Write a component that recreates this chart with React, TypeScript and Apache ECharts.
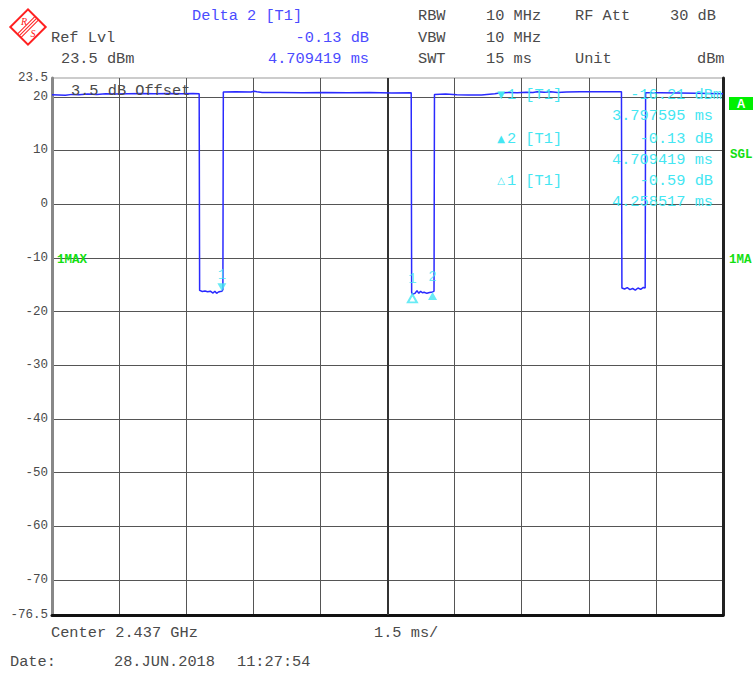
import React, { useEffect, useRef } from "react";
import * as echarts from "echarts";

// ---- data ----
const yGridValues = [20, 10, 0, -10, -20, -30, -40, -50, -60, -70];
const yLabelValues = [23.5, 20, 10, 0, -10, -20, -30, -40, -50, -60, -70, -76.5];

// time (ms) / level (dBm) of the zero-span trace
const trace: [number, number][] = [
  [0.0, 20.4], [0.15, 20.35], [0.3, 20.3], [0.45, 20.45], [0.6, 20.4], [0.8, 20.5], [1.0, 20.45],
  [1.2, 20.55], [1.4, 20.5], [1.7, 20.55], [2.0, 20.6], [2.3, 20.55], [2.6, 20.6], [2.9, 20.55],
  [3.15, 20.6], [3.29, 20.55],
  [3.3, -16.05], [3.36, -16.25], [3.42, -16.15], [3.48, -16.3], [3.54, -16.2], [3.6, -16.55],
  [3.64, -16.2], [3.68, -16.6], [3.72, -16.35], [3.76, -16.25], [3.8, -16.21], [3.82, -15.9],
  [3.83, 20.9], [4.1, 20.95], [4.45, 20.9], [4.52, 21.05], [4.58, 20.95], [4.7, 20.8], [5.1, 20.8],
  [5.6, 20.75], [6.1, 20.8], [6.6, 20.75], [7.1, 20.8], [7.6, 20.7], [8.03, 20.75],
  [8.04, -16.4], [8.06, -16.8], [8.12, -16.55], [8.16, -16.1], [8.2, -16.6], [8.24, -16.2],
  [8.28, -16.5], [8.32, -16.4], [8.38, -16.6], [8.44, -16.45], [8.51, -16.34], [8.54, -16.2],
  [8.55, 20.45], [8.8, 20.5], [9.05, 20.4], [9.3, 20.35], [9.6, 20.35], [9.9, 20.55], [10.0, 20.7],
  [10.2, 20.8], [10.4, 20.75], [10.6, 20.85], [10.75, 20.8], [10.85, 20.95], [11.0, 20.85],
  [11.15, 20.95], [11.3, 20.8], [11.5, 20.9], [11.8, 20.95], [12.2, 20.95], [12.73, 20.95],
  [12.74, -15.6], [12.8, -15.8], [12.86, -15.55], [12.92, -15.9], [12.98, -15.7], [13.04, -16.0],
  [13.1, -15.6], [13.16, -15.85], [13.22, -15.5], [13.26, -15.6],
  [13.27, 20.75], [13.6, 20.75], [14.0, 20.7], [14.4, 20.65], [14.7, 20.6], [15.0, 20.55],
];

const marker1: [number, number] = [3.797595, -16.21];
const delta1: [number, number] = [8.056112, -16.8];
const delta2: [number, number] = [8.507014, -16.34];

const markerInfo = [
  { icon: "▼", name: "1 [T1]", level: "-16.21 dBm", time: "3.797595 ms" },
  { icon: "▲", name: "2 [T1]", level: "-0.13 dB", time: "4.709419 ms" },
  { icon: "△", name: "1 [T1]", level: "-0.59 dB", time: "4.258517 ms" },
];

// ---- styles ----
const MONO = "'Liberation Mono', 'DejaVu Sans Mono', monospace";
const GREY = "#4a4a4a";
const BLUE = "#4b4bff";
const TRACE = "#2a2aff";
const CYAN = "#44e6f2";
const GREEN = "#12e012";

const txt = (text: string, x: number, y: number, fill: string, size = 15.3, align = "left", extra: any = {}) => ({
  type: "text",
  x,
  y,
  z: 10,
  style: { text, fill, font: `${size}px ${MONO}`, align, verticalAlign: "middle", ...extra },
});

export default function App() {
  const ref = useRef<HTMLDivElement>(null);
  useEffect(() => {
    document.body.style.margin = "0";
    const chart = echarts.init(ref.current!, null, { renderer: "svg" });

    const graphic: any[] = [
      // logo
      {
        type: "group",
        x: 28,
        y: 27,
        rotation: Math.PI / 4,
        children: [
          { type: "rect", shape: { x: -12.5, y: -12.5, width: 25, height: 25 }, style: { fill: "#fff", stroke: "#ff2020", lineWidth: 2 } },
          { type: "line", shape: { x1: -12.5, y1: -2.5, x2: 12.5, y2: -2.5 }, style: { stroke: "#ff2020", lineWidth: 1 } },
          { type: "line", shape: { x1: -12.5, y1: 0, x2: 12.5, y2: 0 }, style: { stroke: "#ff2020", lineWidth: 1 } },
          { type: "line", shape: { x1: -12.5, y1: 2.5, x2: 12.5, y2: 2.5 }, style: { stroke: "#ff2020", lineWidth: 1 } },
        ],
      },
      { type: "text", x: 24, y: 21, z: 11, style: { text: "R", fill: "#ff2020", font: "italic 10px 'Liberation Serif'", align: "center", verticalAlign: "middle" } },
      { type: "text", x: 33, y: 33, z: 11, style: { text: "S", fill: "#ff2020", font: "italic 10px 'Liberation Serif'", align: "center", verticalAlign: "middle" } },
      // header
      txt("Delta 2 [T1]", 192, 16, BLUE),
      txt("Ref Lvl", 51, 37.5, GREY),
      txt("-0.13 dB", 369, 37.5, BLUE, 15.3, "right"),
      txt("23.5 dBm", 61, 59, GREY),
      txt("4.709419 ms", 369, 59, BLUE, 15.3, "right"),
      txt("RBW", 418, 16, GREY),
      txt("10 MHz", 486, 16, GREY),
      txt("RF Att", 575, 16, GREY),
      txt("30 dB", 670, 16, GREY),
      txt("VBW", 418, 37.5, GREY),
      txt("10 MHz", 486, 37.5, GREY),
      txt("SWT", 418, 59, GREY),
      txt("15 ms", 486, 59, GREY),
      txt("Unit", 575, 59, GREY),
      txt("dBm", 697, 59, GREY),
      // in-plot note
      txt("3.5 dB Offset", 71, 90.5, GREY),
      // footer
      txt("Center 2.437 GHz", 51, 633, GREY),
      txt("1.5 ms/", 374, 633, GREY),
      txt("Date:", 10, 662, GREY),
      txt("28.JUN.2018", 114, 662, GREY),
      txt("11:27:54", 237, 662, GREY),
      // green status labels
      { type: "rect", x: 729, y: 97, z: 10, shape: { width: 24, height: 13 }, style: { fill: "#00f000" } },
      txt("A", 741, 103.5, "#ffffff", 12, "center", { fontWeight: "bold", font: `bold 12px ${MONO}` }),
      txt("SGL", 730, 155, GREEN, 12.5, "left", { font: `bold 12.5px ${MONO}` }),
      txt("1MAX", 57, 259.5, GREEN, 12.5, "left", { font: `bold 12.5px ${MONO}` }),
      txt("1MA", 729, 259.5, GREEN, 12.5, "left", { font: `bold 12.5px ${MONO}` }),
    ];

    // marker info block
    const rowY = [95, 139, 181];
    markerInfo.forEach((m, i) => {
      const y = rowY[i];
      graphic.push({
        type: "text",
        x: 501,
        y: y - 1,
        z: 10,
        style: { text: m.icon, fill: CYAN, font: "10px 'DejaVu Sans'", align: "center", verticalAlign: "middle" },
      });
      graphic.push(txt(m.name, 507, y, CYAN));
      graphic.push(txt(m.level, i === 0 ? 722 : 713, y, CYAN, 15.3, "right"));
      graphic.push(txt(m.time, 713, y + 21, CYAN, 15.3, "right"));
    });

    const labelFont = { color: CYAN, fontFamily: MONO, fontSize: 14 };

    chart.setOption({
      animation: false,
      backgroundColor: "#ffffff",
      grid: { left: 52, right: 33, top: 78, bottom: 58, show: true, borderColor: "#999", borderWidth: 1 },
      xAxis: [
        {
          type: "value",
          min: 0,
          max: 15,
          interval: 1.5,
          axisLabel: { show: false },
          axisTick: { show: false },
          axisLine: { show: true, onZero: false, lineStyle: { color: "#111", width: 3 } },
          splitLine: { show: true, lineStyle: { color: "#555", width: 1 } },
        },
      ],
      yAxis: [
        {
          type: "value",
          min: -76.5,
          max: 23.5,
          axisTick: { show: false, customValues: yGridValues },
          axisLabel: {
            show: true,
            customValues: yLabelValues,
            color: GREY,
            fontFamily: MONO,
            fontSize: 12.5,
            margin: 4,
            formatter: (v: number) => String(v),
          },
          axisLine: { show: true, onZero: false, lineStyle: { color: "#888", width: 3 } },
          splitLine: { show: true, lineStyle: { color: "#555", width: 1 } },
        },
        {
          type: "value",
          position: "right",
          min: -76.5,
          max: 23.5,
          axisTick: { show: false },
          axisLabel: { show: false },
          splitLine: { show: false },
          axisLine: { show: true, onZero: false, lineStyle: { color: "#222", width: 3 } },
        },
      ],
      series: [
        {
          type: "line",
          data: trace,
          showSymbol: false,
          symbol: "none",
          lineStyle: { color: TRACE, width: 1.5 },
          z: 4,
          silent: true,
          markLine: {
            silent: true,
            symbol: ["none", "none"],
            label: { show: false },
            lineStyle: { color: "#333", width: 2, type: "solid" },
            data: [{ xAxis: 7.5 }],
            z: 2,
          },
        },
        {
          type: "scatter",
          data: [marker1],
          symbol: "triangle",
          symbolRotate: 180,
          symbolSize: [9, 8],
          symbolOffset: [0, -4],
          itemStyle: { color: CYAN },
          label: { show: true, formatter: "1", position: "top", distance: 1, ...labelFont },
          z: 6,
        },
        {
          type: "scatter",
          data: [delta1],
          symbol: "emptyTriangle",
          symbolSize: [9, 8],
          symbolOffset: [0, 4],
          itemStyle: { color: CYAN, borderColor: CYAN, borderWidth: 1 },
          label: { show: true, formatter: "1", position: "top", distance: 7, ...labelFont },
          z: 6,
        },
        {
          type: "scatter",
          data: [delta2],
          symbol: "triangle",
          symbolSize: [9, 8],
          symbolOffset: [0, 4],
          itemStyle: { color: CYAN },
          label: { show: true, formatter: "2", position: "top", distance: 8, ...labelFont },
          z: 6,
        },
      ],
      graphic,
    });
    return () => chart.dispose();
  }, []);
  return <div ref={ref} style={{ width: 756, height: 673 }} />;
}
